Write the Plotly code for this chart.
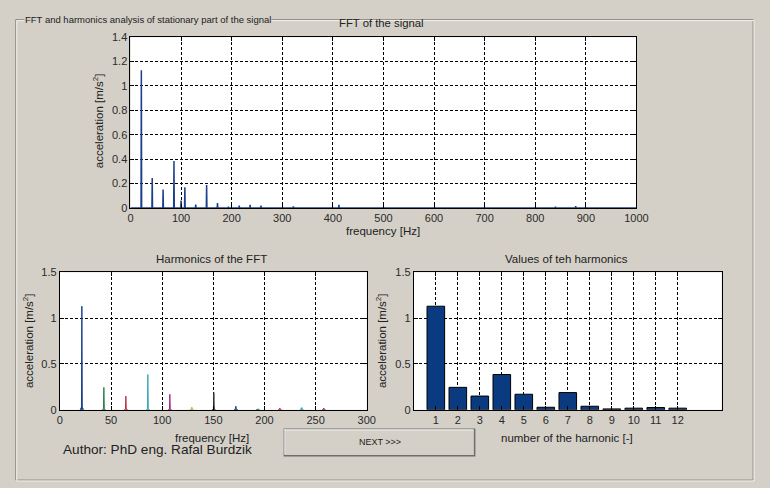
import plotly.graph_objects as go

# ---------------- data ----------------
fft_freq = [21.5, 43, 64.5, 86, 100, 107.5, 129, 150.5, 172, 193.5, 215, 236.5, 258, 322, 412, 840, 880]
fft_amp = [1.13, 0.245, 0.15, 0.385, 0.06, 0.17, 0.028, 0.188, 0.039, 0.01, 0.018, 0.025, 0.018, 0.012, 0.025, 0.01, 0.015]

harm_num = [1, 2, 3, 4, 5, 6, 7, 8, 9, 10, 11, 12]
harm_freq = [21.5, 43, 64.5, 86, 107.5, 129, 150.5, 172, 193.5, 215, 236.5, 258]
harm_amp = [1.13, 0.245, 0.15, 0.385, 0.17, 0.028, 0.188, 0.039, 0.01, 0.018, 0.025, 0.018]
harm_base = [0.03, 0.012, 0.012, 0.015, 0.012, 0.01, 0.01, 0.015, 0.008, 0.01, 0.012, 0.01]

top_yticks = [0, 0.2, 0.4, 0.6, 0.8, 1, 1.2, 1.4]
top_xticks = [0, 100, 200, 300, 400, 500, 600, 700, 800, 900, 1000]
bl_xticks = [0, 50, 100, 150, 200, 250, 300]
b_yticks = [0, 0.5, 1, 1.5]

line_colors = ["#1c3f8a", "#2e7d4f", "#c0304a", "#3aa8b8", "#a0307f", "#b8b030",
               "#303030"]

BG = "#d4d0c8"
FONT = "Liberation Sans, Arial, sans-serif"
W, H = 770, 488


def px(x):
    return x / W


def py(y):
    return 1 - y / H


# ---------------- traces ----------------
fig = go.Figure()

# top FFT spectrum (spikes built from the peak list)
sx, sy = [0], [0]
for f, a in sorted(zip(fft_freq, fft_amp)):
    sx += [f - 0.6, f, f + 0.6]
    sy += [0, a, 0]
sx.append(1000)
sy.append(0)
fig.add_trace(go.Scatter(x=sx, y=sy, mode="lines", line=dict(color="#1c3f8a", width=1.5),
                         xaxis="x", yaxis="y", showlegend=False, hoverinfo="skip"))

# bottom-left harmonics, one coloured trace each
for i, (f, a, b) in enumerate(zip(harm_freq, harm_amp, harm_base)):
    c = line_colors[i % len(line_colors)]
    fig.add_trace(go.Scatter(
        x=[f - 1.6, f - 0.4, f, f + 0.4, f + 1.6, f - 1.6],
        y=[0, b, a, b, 0, 0],
        mode="lines", fill="toself", fillcolor=c,
        line=dict(color=c, width=1), xaxis="x2", yaxis="y2",
        showlegend=False, hoverinfo="skip"))

# bottom-right bars
fig.add_trace(go.Bar(x=harm_num, y=harm_amp, width=0.8,
                     marker=dict(color="#0a3a80", line=dict(color="#000000", width=1)),
                     xaxis="x3", yaxis="y3", showlegend=False, hoverinfo="skip"))

# ---------------- axes ----------------
axis_common = dict(showline=True, linecolor="#000000", linewidth=1, mirror="ticks",
                   ticks="inside", ticklen=4, tickcolor="#000000",
                   showgrid=True, gridcolor="#000000", gridwidth=1, griddash="3px,2px",
                   zeroline=False, tickfont=dict(family=FONT, size=11, color="#2a2a2a"),
                   fixedrange=True)

fig.update_layout(
    width=W, height=H, margin=dict(l=0, r=0, t=0, b=0),
    paper_bgcolor=BG, plot_bgcolor="#ffffff",
    font=dict(family=FONT, size=10, color="#222222"),
    xaxis=dict(domain=[px(130), px(646)], range=[0, 1000], tickvals=top_xticks,
               anchor="y", **axis_common),
    yaxis=dict(domain=[py(207), py(32)], range=[0, 1.4], tickvals=top_yticks,
               anchor="x", **axis_common),
    xaxis2=dict(domain=[px(58), px(371)], range=[0, 300], tickvals=bl_xticks,
                anchor="y2", **axis_common),
    yaxis2=dict(domain=[py(414), py(273)], range=[0, 1.5], tickvals=b_yticks,
                anchor="x2", **axis_common),
    xaxis3=dict(domain=[px(419), px(733)], range=[0, 14], tickvals=harm_num,
                anchor="y3", **axis_common),
    yaxis3=dict(domain=[py(414), py(273)], range=[0, 1.5], tickvals=b_yticks,
                anchor="x3", **axis_common),
    bargap=0.2,
)

# ---------------- frame, button, texts ----------------
shapes = [
    # etched group box
    dict(type="rect", xref="paper", yref="paper", x0=px(13), x1=px(765), y0=py(486), y1=py(14),
         line=dict(color="#8a8782", width=1), fillcolor="rgba(0,0,0,0)", layer="below"),
    dict(type="rect", xref="paper", yref="paper", x0=px(14), x1=px(766), y0=py(487), y1=py(15),
         line=dict(color="#f2f0ec", width=1), fillcolor="rgba(0,0,0,0)", layer="below"),
    # button
    dict(type="rect", xref="paper", yref="paper", x0=px(287), x1=px(481), y0=py(461), y1=py(434),
         line=dict(color="#6f6d69", width=1.5), fillcolor=BG),
    dict(type="line", xref="paper", yref="paper", x0=px(287), x1=px(480), y0=py(434.5), y1=py(434.5),
         line=dict(color="#ffffff", width=1)),
    dict(type="line", xref="paper", yref="paper", x0=px(287.5), x1=px(287.5), y0=py(460), y1=py(434),
         line=dict(color="#ffffff", width=1)),
]

ann = []


def text(x, y, s, size=10, angle=0, **kw):
    ann.append(dict(x=px(x), y=py(y), xref="paper", yref="paper", text=s, showarrow=False,
                    textangle=angle, font=dict(family=FONT, size=size, color="#222222"),
                    xanchor="center", yanchor="middle", **kw))


text(147.5, 14, "FFT and harmonics analysis of stationary part of the signal", size=9.5,
     bgcolor=BG, borderpad=0)
text(386, 17, "FFT of the signal", size=11.3)
text(388, 231, "frequency [Hz]", size=11.5)
text(97, 118, "acceleration [m/s<sup>2</sup>]", size=11.5, angle=-90)

text(213, 259, "Harmonics of the FFT", size=11.5)
text(213, 443, "frequency [Hz]", size=11.5)
text(25, 343, "acceleration [m/s<sup>2</sup>]", size=11.5, angle=-90)

text(575, 259, "Values of teh harmonics", size=11.5)
text(575, 443, "number of the harnonic [-]", size=11.5)
text(385, 343, "acceleration [m/s<sup>2</sup>]", size=11.5, angle=-90)

text(158, 455, "Author: PhD eng. Rafal Burdzik", size=13.6)
text(384, 447, "NEXT &gt;&gt;&gt;", size=9)

fig.update_layout(shapes=shapes, annotations=ann)

fig.write_html("out.html", config={"displayModeBar": False},
               post_script="document.body.style.margin='0';"
                           "document.body.style.background='#d4d0c8';")
